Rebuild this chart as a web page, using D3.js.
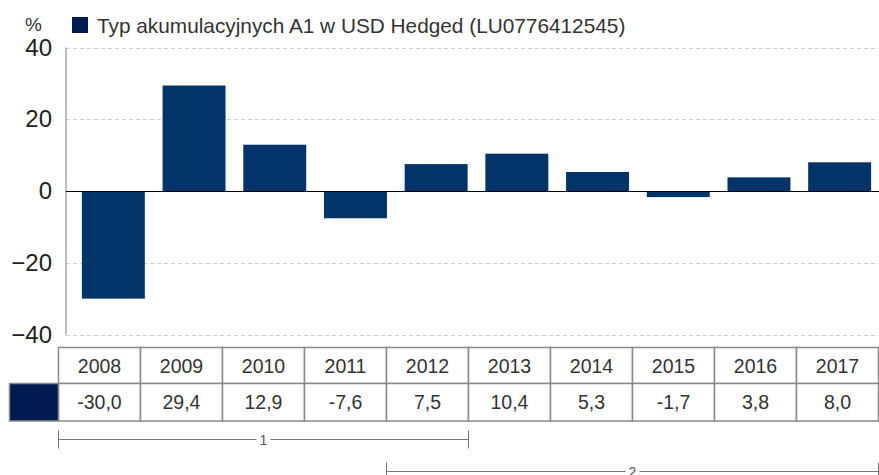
<!DOCTYPE html>
<html><head><meta charset="utf-8">
<script src="https://cdn.jsdelivr.net/npm/d3@7"></script>
<style>
body{margin:0;background:#fff;}
text{font-family:"Liberation Sans",Arial,sans-serif;fill:#333;}
</style></head>
<body>
<svg id="c" width="879" height="475"></svg>
<script>
const years = ["2008","2009","2010","2011","2012","2013","2014","2015","2016","2017"];
const values = [-30.0, 29.4, 12.9, -7.6, 7.5, 10.4, 5.3, -1.7, 3.8, 8.0];
const yTicks = [-40, -20, 0, 20, 40];
const seriesName = "Typ akumulacyjnych A1 w USD Hedged (LU0776412545)";
const brackets = [{label:"1", from:0, to:4}, {label:"2", from:4, to:9}];

const W = 879, H = 475;
const barColor = "#023369", legendColor = "#001a4f";
const svg = d3.select("#c");

const y = d3.scaleLinear().domain([-40, 40]).range([334.5, 47.5]);
const x = d3.scaleBand().domain(years).range([73, 880]).paddingInner(0.22).paddingOuter(0.11);
const xt = d3.scaleBand().domain(years).range([58.5, 878.5]);

// grid
svg.append("g").selectAll("line").data(yTicks.filter(d => d !== 0)).join("line")
  .attr("x1", 66).attr("x2", W).attr("y1", d => Math.round(y(d)) + 0.5).attr("y2", d => Math.round(y(d)) + 0.5)
  .attr("stroke", "#cfcfcf").attr("stroke-dasharray", "4,3");

// y axis
const yAxis = d3.axisLeft(y).tickValues(yTicks).tickSize(0).tickPadding(14).tickFormat(d3.format("d"));
const ga = svg.append("g").attr("transform", "translate(66,0)").call(yAxis);
ga.select(".domain").attr("stroke", "#bdbdbd").attr("stroke-width", 2).attr("d", `M0,${y(40)}V${y(-40)}`);
ga.selectAll("text").style("font-size", "24px").style("fill", "#222");

svg.append("text").attr("x", 25).attr("y", 31).style("font-size", "19px").text("%");

// bars
svg.append("g").selectAll("rect").data(values).join("rect")
  .attr("x", (d, i) => x(years[i])).attr("width", x.bandwidth())
  .attr("y", d => y(Math.max(0, d))).attr("height", d => Math.abs(y(d) - y(0)))
  .attr("fill", barColor);

// zero line
svg.append("line").attr("x1", 66).attr("x2", W).attr("y1", Math.round(y(0)) + 0.5).attr("y2", Math.round(y(0)) + 0.5)
  .attr("stroke", "#000").attr("stroke-width", 1);

// legend
svg.append("rect").attr("x", 72).attr("y", 17).attr("width", 16).attr("height", 16).attr("fill", legendColor);
svg.append("text").attr("x", 97).attr("y", 33).style("font-size", "20.8px").text(seriesName);

// table
const rowTop = 347.5, rowMid = 383.5, rowBot = 421;
const tg = svg.append("g");
tg.selectAll("rect.yr").data(years).join("rect").attr("class", "yr")
  .attr("x", d => xt(d)).attr("y", rowTop).attr("width", xt.bandwidth()).attr("height", rowMid - rowTop)
  .attr("fill", "#fff").attr("stroke", "#8a8a8a").attr("stroke-width", 1.5);
tg.selectAll("rect.vl").data(years).join("rect").attr("class", "vl")
  .attr("x", d => xt(d)).attr("y", rowMid).attr("width", xt.bandwidth()).attr("height", rowBot - rowMid)
  .attr("fill", "#fff").attr("stroke", "#8a8a8a").attr("stroke-width", 1.5);
tg.append("rect").attr("x", 9.5).attr("y", rowMid).attr("width", 58.5 - 9.5).attr("height", rowBot - rowMid)
  .attr("fill", legendColor).attr("stroke", "#8a8a8a").attr("stroke-width", 1.5);
tg.selectAll("text.yr").data(years).join("text").attr("class", "yr")
  .attr("x", d => xt(d) + xt.bandwidth() / 2).attr("y", (rowTop + rowMid) / 2 + 7)
  .attr("text-anchor", "middle").style("font-size", "19.5px").text(d => d);
const fmt = v => d3.format(".1f")(v).replace(".", ",").replace("−", "-");
tg.selectAll("text.vl").data(values).join("text").attr("class", "vl")
  .attr("x", (d, i) => xt(years[i]) + xt.bandwidth() / 2).attr("y", (rowMid + rowBot) / 2 + 7)
  .attr("text-anchor", "middle").style("font-size", "19.5px").text(fmt);

// brackets
const byRow = [439.5, 471.5];
brackets.forEach((b, k) => {
  const x0 = xt(years[b.from]), x1 = xt(years[b.to]) + xt.bandwidth();
  const yy = byRow[k];
  const g = svg.append("g");
  const cx = (x0 + x1) / 2;
  g.append("line").attr("x1", x0).attr("x2", cx - 7).attr("y1", yy).attr("y2", yy).attr("stroke", "#777");
  g.append("line").attr("x1", cx + 7).attr("x2", x1).attr("y1", yy).attr("y2", yy).attr("stroke", "#777");
  g.append("line").attr("x1", x0).attr("x2", x0).attr("y1", yy - 9).attr("y2", yy + 9).attr("stroke", "#777");
  g.append("line").attr("x1", x1).attr("x2", x1).attr("y1", yy - 9).attr("y2", yy + 9).attr("stroke", "#777");
  g.append("text").attr("x", cx).attr("y", yy + 5).attr("text-anchor", "middle").style("font-size", "14px").style("fill", "#555").text(b.label);
});
</script>
</body></html>
